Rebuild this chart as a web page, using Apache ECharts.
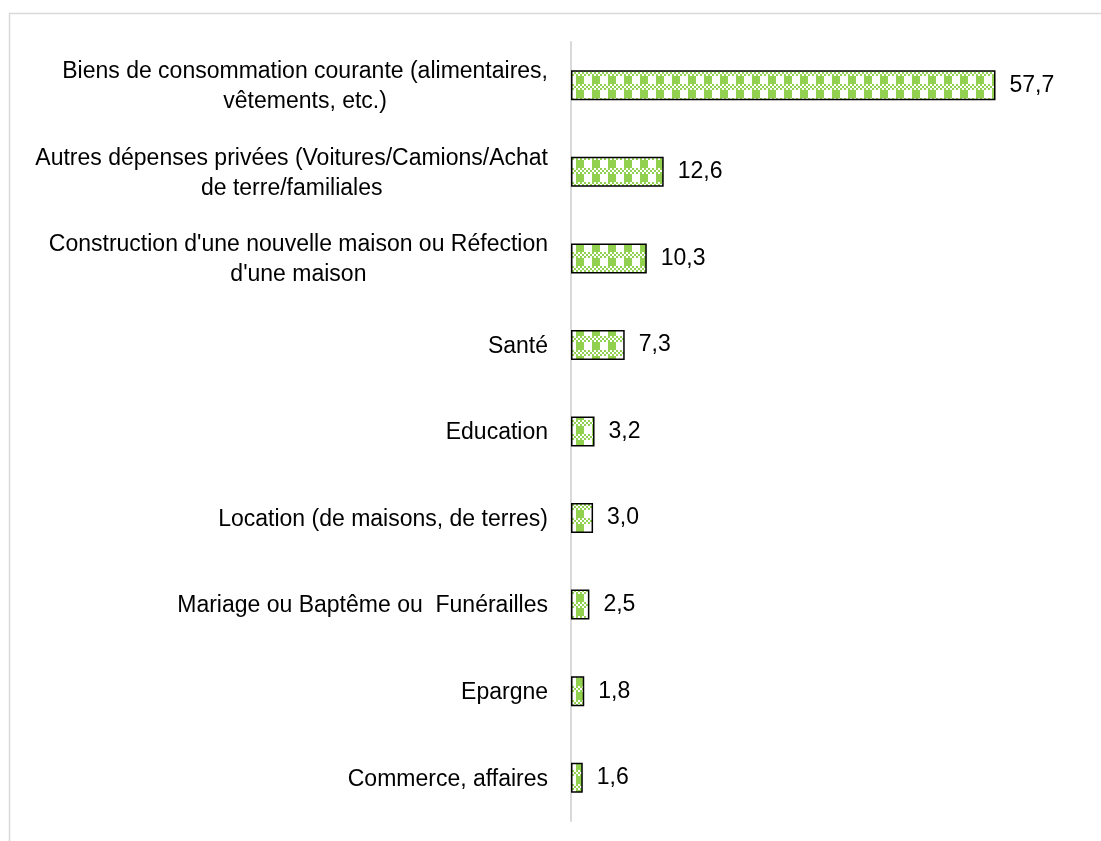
<!DOCTYPE html>
<html>
<head>
<meta charset="utf-8">
<script src="https://cdn.jsdelivr.net/npm/echarts@6/dist/echarts.min.js"></script>
<style>
  html, body { margin: 0; padding: 0; background: #fff; }
  #chart { width: 1101px; height: 841px; }
</style>
</head>
<body>
<div id="chart"></div>
<script>
// catégories (de haut en bas)
var categories = [
	'Biens de consommation courante (alimentaires,\nvêtements, etc.)',
	'Autres dépenses privées (Voitures/Camions/Achat\nde terre/familiales',
	"Construction d'une nouvelle maison ou Réfection\nd'une maison",
	'Santé',
	'Education',
	'Location (de maisons, de terres)',
	'Mariage ou Baptême ou  Funérailles',
	'Epargne',
	'Commerce, affaires'
];
// pourcentages
var values = [57.7, 12.6, 10.3, 7.3, 3.2, 3.0, 2.5, 1.8, 1.6];

var GREEN = '#92d050';
var FONT = '"Liberation Sans", Arial, sans-serif';

// motif damier vert (comme le remplissage du graphique d'origine)
function makePattern(){
	var c = document.createElement('canvas');
	c.width = 16;
	c.height = 14;
	var ctx = c.getContext('2d');
	ctx.fillStyle = '#fff';
	ctx.fillRect(0, 0, 16, 14);
	ctx.fillStyle = GREEN;
	// bande en petit damier
	for(var y = 0; y < 6; y += 2){
		for(var x = 0; x < 16; x += 2){
			if(((x + y) / 2) % 2 === 0) ctx.fillRect(x, y, 2, 2);
		}
	}
	// gros blocs
	ctx.fillRect(0, 6, 8, 8);
	return c;
}

var chart = echarts.init(document.getElementById('chart'));

var option = {
	backgroundColor: '#fff',
	animation: false,
	textStyle: { fontFamily: FONT },
	graphic: [{
		type: 'rect',
		shape: { x: 9.5, y: 13.5, width: 1100, height: 840 },
		style: { fill: 'none', stroke: '#d9d9d9', lineWidth: 1.5 },
		silent: true
	}],
	grid: { left: 571, right: 15, top: 42, bottom: 20, outerBoundsMode: 'none', containLabel: false },
	xAxis: {
		type: 'value',
		min: 0,
		max: 70,
		show: false
	},
	yAxis: {
		type: 'category',
		inverse: true,
		data: categories,
		axisLine: { show: true, lineStyle: { color: '#d9d9d9', width: 2 } },
		axisTick: { show: false },
		axisLabel: {
			margin: 23,
			align: 'right',
			formatter: function(v){
				return v.split('\n').map(function(l){ return '{a|' + l + '}'; }).join('\n');
			},
			rich: {
				a: { fontSize: 23, lineHeight: 30, color: '#000', align: 'center', fontFamily: FONT, padding: [3, 0, 0, 0] }
			}
		}
	},
	series: [{
		type: 'bar',
		data: values,
		barWidth: 30,
		itemStyle: {
			color: { image: makePattern(), repeat: 'repeat' },
			borderColor: '#000',
			borderWidth: 1.5
		},
		label: {
			show: true,
			position: 'right',
			distance: 14,
			fontSize: 23,
			color: '#000',
			fontFamily: FONT,
			formatter: function(p){ return p.value.toFixed(1).replace('.', ','); }
		}
	}]
};

chart.setOption(option);
</script>
</body>
</html>
